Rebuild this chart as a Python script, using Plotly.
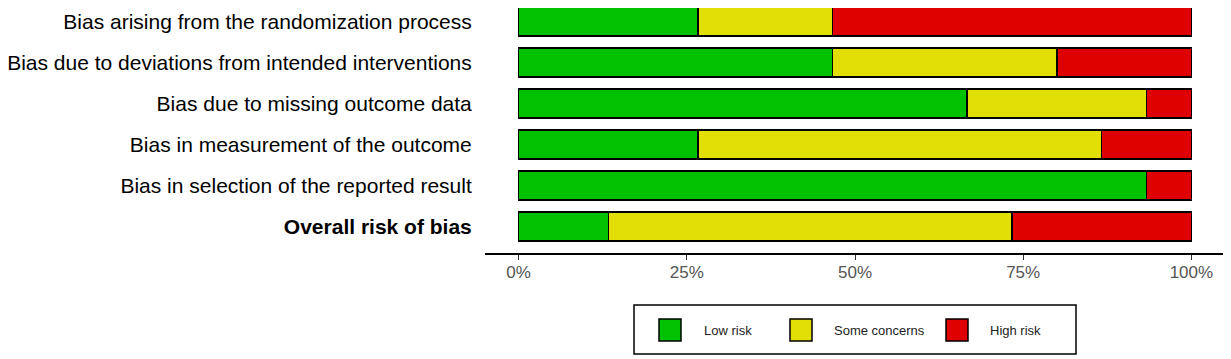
import plotly.graph_objects as go

domains = [
    "Bias arising from the randomization process",
    "Bias due to deviations from intended interventions",
    "Bias due to missing outcome data",
    "Bias in measurement of the outcome",
    "Bias in selection of the reported result",
    "<b>Overall risk of bias</b>",
]
n_studies = 15
low_risk = [4, 7, 10, 4, 14, 2]
some_concerns = [3, 5, 4, 9, 0, 9]
high_risk = [8, 3, 1, 2, 1, 4]
judgements = ["Low risk", "Some concerns", "High risk"]
colors = ["#02C100", "#E2DF07", "#DF0000"]
tick_vals = [0, 0.25, 0.5, 0.75, 1.0]
tick_text = ["0%", "25%", "50%", "75%", "100%"]

fig = go.Figure()
for name, counts, col in zip(judgements, [low_risk, some_concerns, high_risk], colors):
    fig.add_trace(go.Bar(
        y=domains, x=[c / n_studies for c in counts], name=name, orientation="h",
        marker=dict(color=col, line=dict(color="black", width=1.5)),
        width=0.7, showlegend=False,
    ))

# page body has an 8px margin: shift the whole figure accordingly
OFF = 8
W, H = 1231 - OFF, 359 - OFF
L, R, T, B = 485 - OFF, 6, 0, 359 - 253
pw, ph = W - L - R, H - T - B

fig.update_layout(
    width=W, height=H, barmode="stack",
    margin=dict(l=L, r=R, t=T, b=B),
    plot_bgcolor="white", paper_bgcolor="white",
    font=dict(family="Liberation Sans, Arial, sans-serif", color="black"),
    xaxis=dict(range=[-0.05, 1.05], tickvals=tick_vals, ticktext=tick_text,
               showgrid=False, zeroline=False, showline=True, linecolor="black", linewidth=1.5,
               ticks="outside", ticklen=5, tickcolor="#333", tickwidth=1.2,
               ticklabelstandoff=-2,
               tickfont=dict(size=17, color="#555")),
    yaxis=dict(categoryorder="array", categoryarray=domains, range=[5.646, -0.33],
               showgrid=False, zeroline=False, showline=False,
               ticks="outside", ticklen=8, tickcolor="rgba(0,0,0,0)",
               tickfont=dict(size=21, color="black")),
)

# custom legend (positions in page pixels)
def px(x):
    return (x - OFF - L) / pw

def py(y):
    return 1 - (y - OFF - T) / ph

fig.add_shape(type="rect", xref="paper", yref="paper", x0=px(634), x1=px(1076),
              y0=py(354), y1=py(305), line=dict(color="black", width=1.5), fillcolor="white")
sq_x = [659, 790, 946]
txt_x = [702, 832, 988]
for name, col, sx, tx in zip(judgements, colors, sq_x, txt_x):
    fig.add_shape(type="rect", xref="paper", yref="paper", x0=px(sx), x1=px(sx + 22),
                  y0=py(341), y1=py(319), line=dict(color="black", width=1.5), fillcolor=col)
    fig.add_annotation(xref="paper", yref="paper", x=px(tx), y=py(330), text=name,
                       showarrow=False, xanchor="left", yanchor="middle",
                       font=dict(size=13, color="#222"))

fig.write_html("out.html")
